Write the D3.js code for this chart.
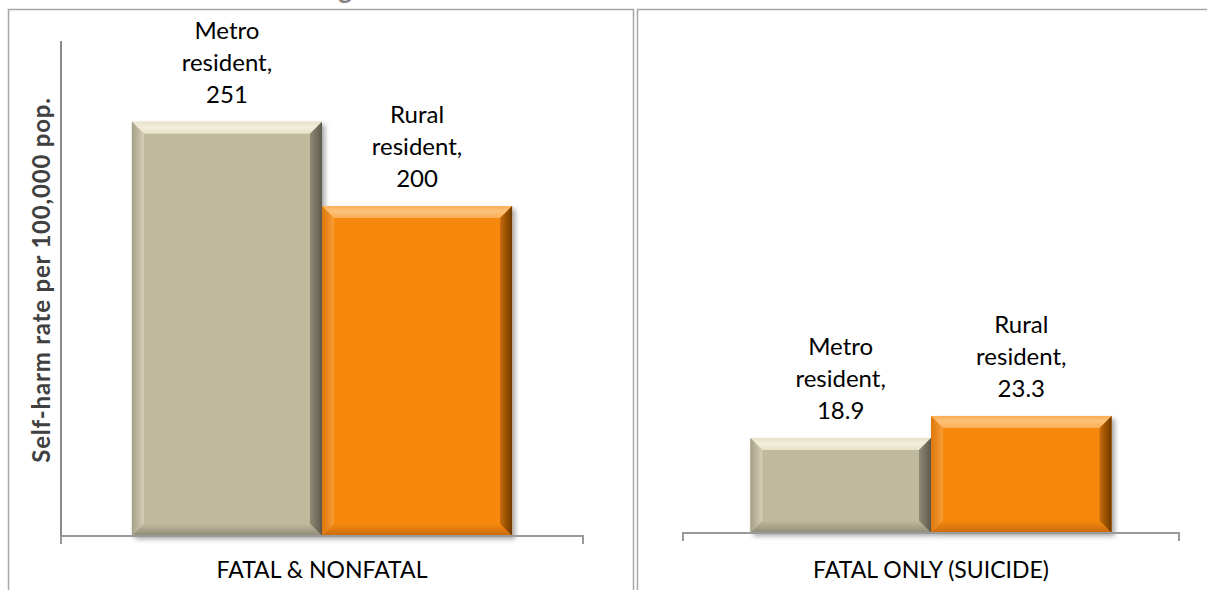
<!DOCTYPE html>
<html>
<head>
<meta charset="utf-8">
<script src="https://cdn.jsdelivr.net/npm/d3@7/dist/d3.min.js"></script>
<style>
  html, body { margin: 0; padding: 0; background: #ffffff; }
  svg { display: block; }
</style>
</head>
<body>
<svg id="chart" width="1207" height="590"></svg>
<script>
// ---- Data ----
const categories = ["FATAL & NONFATAL", "FATAL ONLY (SUICIDE)"];
const seriesNames = ["Metro resident", "Rural resident"];
const metroValues = [251, 18.9];
const ruralValues = [200, 23.3];
const yAxisTitle = "Self-harm rate per 100,000 pop.";
const yMaxByPanel = [300, 100];

// ---- Styles / layout ----
const colors = {
  "Metro resident": { face: "#BFB99D", light: "#E6E1C9", lighter: "#F2EEDB", dark: "#8E8A74", darkest: "#5E5B4C" },
  "Rural resident": { face: "#F5880F", light: "#FAAE55", lighter: "#FCC27A", dark: "#C76A08", darkest: "#6E3A02" }
};
const panels = [
  { box: [8, 9, 633, 600], plot: { x0: 61, x1: 583, y0: 41, y1: 536 }, showYAxis: true },
  { box: [637, 9, 1215, 600], plot: { x0: 683, x1: 1179, y0: 31, y1: 533 }, showYAxis: false }
];
const FONT = "Lato, 'Open Sans', 'Noto Sans', sans-serif";

const svg = d3.select("#chart");
const defs = svg.append("defs");
const f = defs.append("filter").attr("id", "shadow").attr("x", "-10%").attr("y", "-10%").attr("width", "130%").attr("height", "130%");
f.append("feDropShadow").attr("dx", 3).attr("dy", 3).attr("stdDeviation", 2.5).attr("flood-color", "#000").attr("flood-opacity", 0.35);

seriesNames.forEach((s, i) => {
  const c = colors[s];
  const gt = defs.append("linearGradient").attr("id", "top" + i).attr("x1", 0).attr("y1", 0).attr("x2", 0).attr("y2", 1);
  gt.append("stop").attr("offset", "0%").attr("stop-color", c.light);
  gt.append("stop").attr("offset", "45%").attr("stop-color", c.lighter);
  gt.append("stop").attr("offset", "100%").attr("stop-color", c.light);
  const gr = defs.append("linearGradient").attr("id", "right" + i).attr("x1", 0).attr("y1", 0).attr("x2", 1).attr("y2", 0);
  gr.append("stop").attr("offset", "0%").attr("stop-color", c.dark);
  gr.append("stop").attr("offset", "100%").attr("stop-color", c.darkest);
  const gb = defs.append("linearGradient").attr("id", "bottom" + i).attr("x1", 0).attr("y1", 0).attr("x2", 0).attr("y2", 1);
  gb.append("stop").attr("offset", "0%").attr("stop-color", c.face);
  gb.append("stop").attr("offset", "100%").attr("stop-color", c.dark);
  const gl = defs.append("linearGradient").attr("id", "left" + i).attr("x1", 0).attr("y1", 0).attr("x2", 1).attr("y2", 0);
  gl.append("stop").attr("offset", "0%").attr("stop-color", c.dark);
  gl.append("stop").attr("offset", "100%").attr("stop-color", c.light);
});

// Cut-off title fragment at top (the reference shows only the descender)
svg.append("text").attr("x", 345).attr("y", -1).attr("text-anchor", "middle")
  .attr("font-family", FONT).attr("font-weight", "bold").attr("font-size", 26)
  .attr("fill", "#7F7F7F").text("g");

function bevelBar(g, x, y, w, h, si) {
  const b = Math.min(12, w / 4, h / 4);
  const bar = g.append("g").attr("filter", "url(#shadow)");
  const pts = a => a.map(p => p.join(",")).join(" ");
  bar.append("rect").attr("x", x).attr("y", y).attr("width", w).attr("height", h).attr("fill", colors[seriesNames[si]].face);
  bar.append("polygon").attr("points", pts([[x, y], [x + w, y], [x + w - b, y + b], [x + b, y + b]])).attr("fill", `url(#top${si})`);
  bar.append("polygon").attr("points", pts([[x, y], [x + b, y + b], [x + b, y + h - b], [x, y + h]])).attr("fill", `url(#left${si})`).attr("opacity", 0.55);
  bar.append("polygon").attr("points", pts([[x + w, y], [x + w, y + h], [x + w - b, y + h - b], [x + w - b, y + b]])).attr("fill", `url(#right${si})`);
  bar.append("polygon").attr("points", pts([[x, y + h], [x + b, y + h - b], [x + w - b, y + h - b], [x + w, y + h]])).attr("fill", `url(#bottom${si})`);
}

panels.forEach((p, ci) => {
  const g = svg.append("g");
  // panel border
  g.append("rect").attr("x", p.box[0] + 0.5).attr("y", p.box[1] + 0.5)
    .attr("width", p.box[2] - p.box[0]).attr("height", p.box[3] - p.box[1])
    .attr("fill", "none").attr("stroke", "#A6A6A6").attr("stroke-width", 1.5);

  const pl = p.plot;
  const x = d3.scaleBand().domain([categories[ci]]).range([pl.x0, pl.x1]).paddingInner(0).paddingOuter(0.1865);
  const xs = d3.scaleBand().domain(seriesNames).range([0, x.bandwidth()]).padding(0);
  const y = d3.scaleLinear().domain([0, yMaxByPanel[ci]]).range([pl.y1, pl.y0]);

  const vals = [metroValues[ci], ruralValues[ci]];
  seriesNames.forEach((s, si) => {
    const bx = x(categories[ci]) + xs(s);
    const by = y(vals[si]);
    bevelBar(g, bx, by, xs.bandwidth(), y(0) - by, si);
  });

  // data labels
  seriesNames.forEach((s, si) => {
    const cx = x(categories[ci]) + xs(s) + xs.bandwidth() / 2;
    const by = y(vals[si]);
    const parts = s.split(" ");
    const lines = [parts[0], parts[1] + ",", String(vals[si])];
    const t = g.append("text").attr("text-anchor", "middle").attr("font-family", FONT)
      .attr("font-size", 24).attr("fill", "#000");
    lines.forEach((ln, li) => {
      t.append("tspan").attr("x", cx).attr("y", by - 19 - (lines.length - 1 - li) * 32).text(ln);
    });
  });

  // x axis line with end ticks
  g.append("path")
    .attr("d", `M${pl.x0},${pl.y1 + 8}V${pl.y1}H${pl.x1}V${pl.y1 + 8}`)
    .attr("fill", "none").attr("stroke", "#9A9A9A").attr("stroke-width", 2);

  if (p.showYAxis) {
    g.append("line").attr("x1", pl.x0).attr("x2", pl.x0).attr("y1", pl.y0).attr("y2", pl.y1)
      .attr("stroke", "#8C8C8C").attr("stroke-width", 2);
    g.append("text")
      .attr("transform", `translate(${pl.x0 - 11},280) rotate(-90)`)
      .attr("text-anchor", "middle").attr("font-family", FONT).attr("font-weight", "bold")
      .attr("font-size", 24).attr("letter-spacing", 0.8).attr("fill", "#404040").text(yAxisTitle);
  }

  // category label
  g.append("text").attr("x", (pl.x0 + pl.x1) / 2).attr("y", 578)
    .attr("text-anchor", "middle").attr("font-family", FONT).attr("font-size", 23)
    .attr("fill", "#000").text(categories[ci]);
});
</script>
</body>
</html>
